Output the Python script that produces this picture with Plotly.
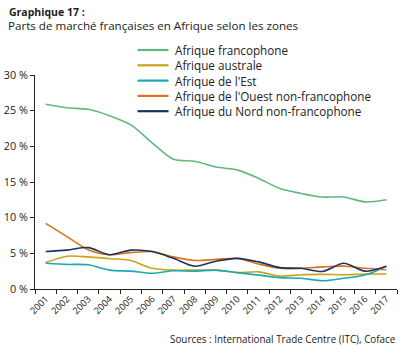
import plotly.graph_objects as go

years = [str(y) for y in range(2001, 2018)]
series_names = ["Afrique francophone", "Afrique australe", "Afrique de l'Est",
                "Afrique de l'Ouest non-francophone", "Afrique du Nord non-francophone"]
francophone = [25.9, 25.4, 25.2, 24.3, 23.0, 20.5, 18.2, 17.9, 17.1, 16.7, 15.5, 14.1, 13.4, 12.9, 12.9, 12.2, 12.5]
australe = [3.7, 4.6, 4.5, 4.25, 4.0, 2.9, 2.65, 2.65, 2.65, 2.3, 2.4, 1.8, 2.0, 2.05, 2.0, 2.1, 2.1]
est = [3.6, 3.45, 3.4, 2.65, 2.5, 2.2, 2.55, 2.5, 2.65, 2.3, 1.95, 1.6, 1.5, 1.15, 1.5, 1.95, 3.2]
ouest = [9.2, 7.35, 5.5, 4.8, 5.1, 5.25, 4.5, 4.0, 4.15, 4.3, 3.5, 2.9, 2.9, 3.1, 3.2, 2.9, 2.7]
nord = [5.25, 5.45, 5.8, 4.8, 5.45, 5.25, 4.3, 3.2, 3.9, 4.3, 3.8, 3.0, 2.9, 2.45, 3.6, 2.5, 3.2]
values = [francophone, australe, est, ouest, nord]
colors = ["#62b77c", "#c9a418", "#1aaab0", "#e2701b", "#17365e"]
yticks = [0, 5, 10, 15, 20, 25, 30]
ytick_labels = ["0 %", "5 %", "10 %", "15 %", "20 %", "25 %", "30 %"]

FONT = "Open Sans"
W, H = 404, 356
L, R, T, B = 35, 7, 75, 67
pw, ph = W - L - R, H - T - B

def px2paper(x, y):
    return (x - L) / pw, (H - B - y) / ph

fig = go.Figure()
for name, vals, col in zip(series_names, values, colors):
    fig.add_trace(go.Scatter(x=years, y=vals, name=name, mode="lines",
                             line=dict(color=col, width=1.6, shape="spline", smoothing=0.8),
                             showlegend=False, hoverinfo="skip"))

shapes = []
annotations = []
leg_y = [50, 65.3, 80.6, 95.9, 111.2]
for name, col, ly in zip(series_names, colors, leg_y):
    x0, y0 = px2paper(137.5, ly)
    x1, _ = px2paper(168.5, ly)
    shapes.append(dict(type="line", xref="paper", yref="paper", x0=x0, x1=x1, y0=y0, y1=y0,
                       line=dict(color=col, width=2.2)))
    tx, ty = px2paper(174, ly)
    annotations.append(dict(text=name, xref="paper", yref="paper", x=tx, y=ty,
                            xanchor="left", yanchor="middle", showarrow=False, borderpad=0,
                            font=dict(family=FONT, size=11.7, color="#222")))

annotations.append(dict(text="<b>Graphique 17 :</b>", xref="paper", yref="paper",
                        x=px2paper(8, 0)[0], y=px2paper(0, 12.5)[1], xanchor="left", yanchor="middle",
                        showarrow=False, borderpad=0, font=dict(family=FONT, size=10.5, color="#222")))
annotations.append(dict(text="Parts de marché françaises en Afrique selon les zones", xref="paper", yref="paper",
                        x=px2paper(7, 0)[0], y=px2paper(0, 25.5)[1], xanchor="left", yanchor="middle",
                        showarrow=False, borderpad=0, font=dict(family=FONT, size=11.6, color="#222")))
annotations.append(dict(text="Sources : International Trade Centre (ITC), Coface", xref="paper", yref="paper",
                        x=px2paper(397, 0)[0], y=px2paper(0, 339)[1], xanchor="right", yanchor="middle",
                        showarrow=False, borderpad=0, font=dict(family=FONT, size=9.9, color="#222")))

fig.update_layout(
    width=W, height=H, margin=dict(l=L, r=R, t=T, b=B, autoexpand=False),
    paper_bgcolor="white", plot_bgcolor="white",
    font=dict(family=FONT, size=10, color="#222"),
    shapes=shapes, annotations=annotations, showlegend=False,
    xaxis=dict(type="category", range=[-0.5, 16.5], tickangle=-45, tickson="boundaries",
               ticks="outside", ticklen=4, tickcolor="#222", showline=True, linecolor="#222",
               linewidth=1, showgrid=False, tickfont=dict(size=9.3), zeroline=False,
               automargin=False),
    yaxis=dict(range=[0, 30], tickvals=yticks, ticktext=ytick_labels, ticks="outside",
               ticklen=4, tickcolor="#222", showline=True, linecolor="#222", linewidth=1,
               showgrid=False, zeroline=False, tickfont=dict(size=10.8), automargin=False),
)

fig.write_html("out.html", config={"displayModeBar": False},
               post_script="document.body.style.margin='0';document.body.style.overflow='hidden';")
